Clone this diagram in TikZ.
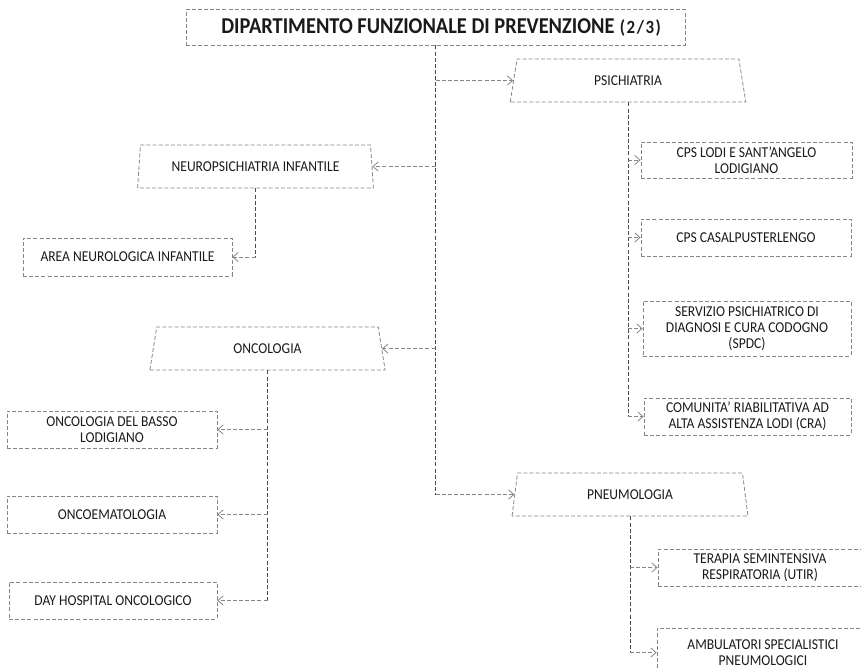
\documentclass[tikz,border=0pt]{standalone}
\usepackage{fontspec}
\setmainfont{Carlito}[FakeStretch=0.9]
\usetikzlibrary{shapes.geometric,arrows.meta}

\definecolor{boxline}{HTML}{858585}
\definecolor{trunkline}{HTML}{4A4A4A}
\definecolor{txt}{HTML}{1A1A1A}

\tikzset{
  unitbox/.style={draw=boxline, dash pattern=on 3pt off 1.6pt, line width=0.6pt,
    inner sep=0pt, align=center, text=txt, font=\fontsize{11.3}{12.2}\selectfont},
  dept/.style={unitbox, trapezium, trapezium stretches=true,
    trapezium left angle=78, trapezium right angle=78,
    minimum width=177pt, minimum height=32.25pt},
  trunk/.style={draw=trunkline, dash pattern=on 3pt off 1.6pt, line width=0.7pt},
  branch/.style={draw=boxline, dash pattern=on 3pt off 1.6pt, line width=0.6pt,
    -{Straight Barb[length=4pt,width=7pt,line width=0.6pt]}}
}

\begin{document}
\begin{tikzpicture}[x=0.75pt,y=-0.75pt]
\useasboundingbox (0,0) rectangle (861,668);
\clip (0,0) rectangle (861,668);

% head of the department
\node[unitbox, minimum width=374.25pt, minimum height=27pt] (title) at (435.5,27) {};
\node[anchor=west, inner sep=0pt, text=txt] (titletext) at (221,27.5)
  {\fontsize{17}{18}\selectfont\bfseries DIPARTIMENTO FUNZIONALE DI PREVENZIONE\hspace{4pt}%
   {\fontsize{14}{15}\selectfont(\hspace{1.2pt}2\hspace{1.2pt}/\hspace{1.2pt}3\hspace{1.2pt})}};

% the four units
\node[dept] (psi) at (628,80.5)  {PSICHIATRIA};
\node[dept] (neu) at (255.5,166.5) {NEUROPSICHIATRIA INFANTILE};
\node[dept] (onc) at (267.5,348.5) {ONCOLOGIA};
\node[dept] (pne) at (630,494.5) {PNEUMOLOGIA};

% services of psichiatria
\node[unitbox, minimum width=158.25pt, minimum height=27pt]   (cps1) at (746.5,160)   {CPS LODI E SANT’ANGELO\\LODIGIANO};
\node[unitbox, minimum width=157.5pt,  minimum height=27.75pt] (cps2) at (746,237.5)   {CPS CASALPUSTERLENGO};
\node[unitbox, minimum width=156pt,    minimum height=41.25pt] (spdc) at (747,328.5)   {SERVIZIO PSICHIATRICO DI\\DIAGNOSI E CURA CODOGNO\\(SPDC)};
\node[unitbox, minimum width=155.25pt, minimum height=27.75pt] (cra)  at (747.5,416.5) {COMUNITA’ RIABILITATIVA AD\\ALTA ASSISTENZA LODI (CRA)};

% service of neuropsichiatria infantile
\node[unitbox, minimum width=156.75pt, minimum height=28.5pt] (area) at (127.5,257) {AREA NEUROLOGICA INFANTILE};

% services of oncologia
\node[unitbox, minimum width=157.5pt, minimum height=27.75pt] (obl) at (112,429.5) {ONCOLOGIA DEL BASSO\\LODIGIANO};
\node[unitbox, minimum width=157.5pt, minimum height=27.75pt] (oem) at (112,514.5) {ONCOEMATOLOGIA};
\node[unitbox, minimum width=156pt,   minimum height=27.75pt] (dh)  at (113,600.5) {DAY HOSPITAL ONCOLOGICO};

% services of pneumologia
\node[unitbox, minimum width=153pt, minimum height=27.75pt] (utir) at (760,567.5) {TERAPIA SEMINTENSIVA\\RESPIRATORIA (UTIR)};
\node[unitbox, minimum width=159pt, minimum height=36.75pt] (amb)  at (763,652.5) {AMBULATORI SPECIALISTICI\\PNEUMOLOGICI};

% main trunk and its branches
\draw[trunk] (title.south) -- (title.south |- pne.left side);
\draw[branch] (title.south |- psi.left side) -- (psi.left side);
\draw[branch] (title.south |- neu.right side) -- (neu.right side);
\draw[branch] (title.south |- onc.right side) -- (onc.right side);
\draw[branch] (title.south |- pne.left side) -- (pne.left side);

% psichiatria
\draw[trunk] (psi.south) -- (psi.south |- cra.west);
\foreach \n in {cps1,cps2,spdc,cra}
  \draw[branch] (psi.south |- \n.west) -- (\n.west);

% neuropsichiatria infantile
\draw[trunk] (neu.south) -- (neu.south |- area.east);
\draw[branch] (neu.south |- area.east) -- (area.east);

% oncologia
\draw[trunk] (onc.south) -- (onc.south |- dh.east);
\foreach \n in {obl,oem,dh}
  \draw[branch] (onc.south |- \n.east) -- (\n.east);

% pneumologia
\draw[trunk] (pne.south) -- (pne.south |- amb.west);
\foreach \n in {utir,amb}
  \draw[branch] (pne.south |- \n.west) -- (\n.west);
\end{tikzpicture}
\end{document}
